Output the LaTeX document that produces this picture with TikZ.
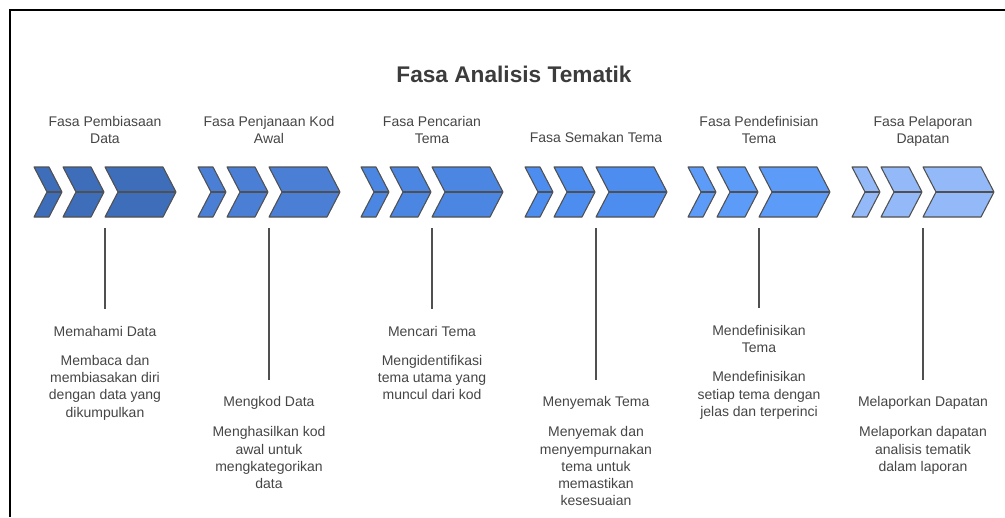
\documentclass[tikz,border=0pt]{standalone}
\usepackage{fontspec}
\setmainfont{Liberation Sans}
\usepackage{tikz}
\usetikzlibrary{calc}
\definecolor{grpA}{HTML}{3E6DB9}
\definecolor{grpB}{HTML}{4A7FD5}
\definecolor{grpC}{HTML}{4B86E2}
\definecolor{grpD}{HTML}{4D8DF0}
\definecolor{grpE}{HTML}{5C9BF8}
\definecolor{grpF}{HTML}{93B9F8}
\definecolor{outl}{HTML}{505050}
\definecolor{txtg}{HTML}{454545}
\definecolor{titleg}{HTML}{3C3C3C}
\tikzset{
  chevron/.style={draw=outl, line width=0.8pt, line join=round},
  pics/chev/.style args={#1:#2:#3}{
    code={
      \draw[chevron, fill=#3] (#1,-25) -- (#1+#2-13,-25) -- (#1+#2,0) -- (#1+#2-13,25) -- (#1,25) -- (#1+13,0) -- cycle;
      \draw[chevron] (#1+13,0) -- (#1+#2,0);
    }
  },
  phase/.style={text=txtg, font=\fontsize{10.5}{12.6}\selectfont, align=center, inner sep=0pt, anchor=north},
  lab/.style={text=txtg, font=\fontsize{10.5}{12.9}\selectfont, align=center, inner sep=0pt, anchor=north},
  stem/.style={draw=outl, line width=1pt, shorten >=12.75pt}
}

\begin{document}
\begin{tikzpicture}[x={(0.75pt,0)}, y={(0,-0.75pt)}]
\useasboundingbox (0,0) rectangle (1005,517);

% frame
\draw[line width=1.5pt] (10,517) -- (10,10) -- (1005,10);

\node[font=\fontsize{17}{20}\selectfont\bfseries, text=titleg, anchor=base, inner sep=0pt] (title) at (514,82) {Fasa Analisis Tematik};

% group origins
\coordinate (G1) at (34,192);
\coordinate (G2) at (198,192);
\coordinate (G3) at (361,192);
\coordinate (G4) at (525,192);
\coordinate (G5) at (688,192);
\coordinate (G6) at (852,192);

%%%chevrons
\path (G1) pic{chev=0:28:grpA} pic{chev=29:41:grpA} pic{chev=71:71:grpA};
\path (G2) pic{chev=0:28:grpB} pic{chev=29:41:grpB} pic{chev=71:71:grpB};
\path (G3) pic{chev=0:28:grpC} pic{chev=29:41:grpC} pic{chev=71:71:grpC};
\path (G4) pic{chev=0:28:grpD} pic{chev=29:41:grpD} pic{chev=71:71:grpD};
\path (G5) pic{chev=0:28:grpE} pic{chev=29:41:grpE} pic{chev=71:71:grpE};
\path (G6) pic{chev=0:28:grpF} pic{chev=29:41:grpF} pic{chev=71:71:grpF};

%%%phase names
\node[phase] (p1) at ($ (G1) + (71,-76) $) {Fasa Pembiasaan\\Data};
\node[phase] (p2) at ($ (G2) + (71,-76) $) {Fasa Penjanaan Kod\\Awal};
\node[phase] (p3) at ($ (G3) + (71,-76) $) {Fasa Pencarian\\Tema};
\node[phase] (p4) at ($ (G4) + (71,-59.5) $) {Fasa Semakan Tema};
\node[phase] (p5) at ($ (G5) + (71,-76) $) {Fasa Pendefinisian\\Tema};
\node[phase] (p6) at ($ (G6) + (71,-76) $) {Fasa Pelaporan\\Dapatan};

% stem tops
\coordinate (t1) at ($ (G1) + (71,36) $);
\coordinate (t2) at ($ (G2) + (71,36) $);
\coordinate (t3) at ($ (G3) + (71,36) $);
\coordinate (t4) at ($ (G4) + (71,36) $);
\coordinate (t5) at ($ (G5) + (71,36) $);
\coordinate (t6) at ($ (G6) + (71,36) $);

%%%steps below
\node[lab] (h1) at ($ (G1) + (71,134) $) {Memahami Data};
\node[lab] (d1) at ($ (G1) + (71,163) $) {Membaca dan\\membiasakan diri\\dengan data yang\\dikumpulkan};
\node[lab] (h2) at ($ (G2) + (71,204.5) $) {Mengkod Data};
\node[lab] (d2) at ($ (G2) + (71,234.5) $) {Menghasilkan kod\\awal untuk\\mengkategorikan\\data};
\node[lab] (h3) at ($ (G3) + (71,134) $) {Mencari Tema};
\node[lab] (d3) at ($ (G3) + (71,163) $) {Mengidentifikasi\\tema utama yang\\muncul dari kod};
\node[lab] (h4) at ($ (G4) + (71,204.5) $) {Menyemak Tema};
\node[lab] (d4) at ($ (G4) + (71,234.5) $) {Menyemak dan\\menyempurnakan\\tema untuk\\memastikan\\kesesuaian};
\node[lab] (h5) at ($ (G5) + (71,133) $) {Mendefinisikan\\Tema};
\node[lab] (d5) at ($ (G5) + (71,179.5) $) {Mendefinisikan\\setiap tema dengan\\jelas dan terperinci};
\node[lab] (h6) at ($ (G6) + (71,204.5) $) {Melaporkan Dapatan};
\node[lab] (d6) at ($ (G6) + (71,234.5) $) {Melaporkan dapatan\\analisis tematik\\dalam laporan};

\draw[stem] (t1) -- (h1);
\draw[stem] (t2) -- (h2);
\draw[stem] (t3) -- (h3);
\draw[stem] (t4) -- (h4);
\draw[stem] (t5) -- (h5);
\draw[stem] (t6) -- (h6);

\end{tikzpicture}
\end{document}
